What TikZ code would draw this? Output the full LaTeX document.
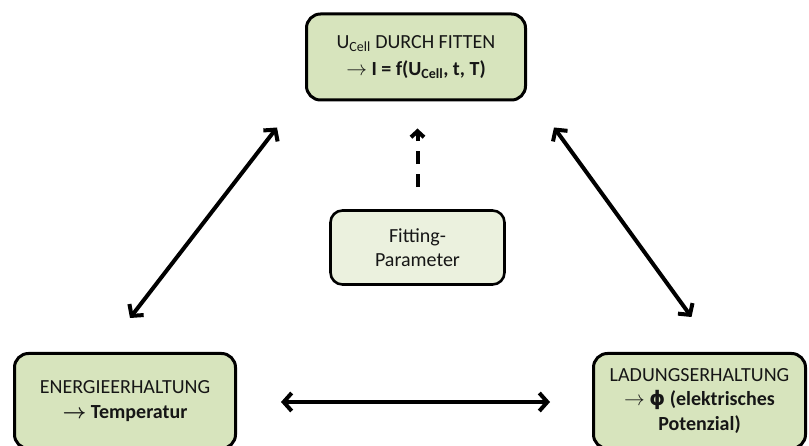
\documentclass[tikz,border=0pt]{standalone}
\usepackage{fontspec}
\setmainfont{Carlito}
\newfontfamily\symfont{DejaVu Sans}
\usetikzlibrary{arrows.meta,calc}
\definecolor{boxgreen}{RGB}{215,228,189}
\definecolor{palegreen}{RGB}{235,241,222}
\definecolor{ink}{RGB}{22,22,22}
\begin{document}
\begin{tikzpicture}[x=1pt,y=-1pt,
  box/.style={draw=black, line width=3pt, rounded corners=14pt, fill=boxgreen,
    align=center, text=ink, font=\fontsize{20}{24.5}\selectfont, inner sep=0pt},
  parambox/.style={box, fill=palegreen, line width=2.6pt, rounded corners=12pt},
  link/.style={line width=4pt,
    {Straight Barb[length=8pt,width=18pt]}-{Straight Barb[length=8pt,width=18pt]}},
  fitlink/.style={line width=4pt, dash pattern=on 13pt off 10pt,
    -{Straight Barb[length=6pt,width=13pt]}},
]
\useasboundingbox (0,0) rectangle (809,446);
\begin{scope}
\clip (0,0) rectangle (809,446);
% the three balance equations and the fitting step
\node[box, minimum width=219pt, minimum height=86pt] (T) at (416,57)
  {U\textsubscript{Cell} DURCH FITTEN\\[2pt]
   \textbf{$\rightarrow$ I = f(U\textsubscript{Cell}, t, T)}};
\node[box, minimum width=221pt, minimum height=95pt] (L) at (125,401)
  {ENERGIEERHALTUNG\\
   \textbf{{\boldmath$\rightarrow$} Temperatur}};
\node[box, minimum width=212pt, minimum height=95pt] (R) at (699.5,401)
  {LADUNGSERHALTUNG\\
   \textbf{$\rightarrow$ {\symfont\bfseries ϕ} (elektrisches}\\
   \textbf{Potenzial)}};
\node[parambox, minimum width=174pt, minimum height=74pt] (M) at (417.5,247.5)
  {Fitting-\\Parameter};
% couplings
\draw[link] ($(L.north)+(5,-34)$) -- ($(T.south west)+(-28,26)$);
\draw[link] ($(T.south east)+(27,26)$) -- ($(R.north)+(-8,-35)$);
\draw[link, shorten <=44pt, shorten >=42pt] ([yshift=-1pt]L.east) -- ([yshift=-1pt]R.west);
\draw[fitlink, shorten <=22pt, shorten >=27pt] (M.north) -- (M.north |- T.south);
\end{scope}
\end{tikzpicture}
\end{document}
